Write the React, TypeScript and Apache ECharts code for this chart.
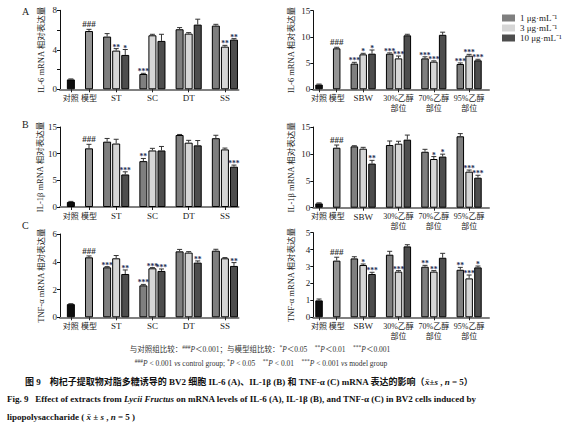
import React, { useEffect, useRef } from 'react';
import * as echarts from 'echarts';

const FONT = "'Liberation Serif', 'Noto Sans CJK SC', serif";

const baseNames = ['对照', '模型'];
const leftGroups = ['ST', 'SC', 'DT', 'SS'];
const rightGroups = ['SBW', '30%乙醇\n部位', '70%乙醇\n部位', '95%乙醇\n部位'];
const doseNames = ['1 μg·mL⁻¹', '3 μg·mL⁻¹', '10 μg·mL⁻¹'];

// IL-6, left (ST/SC/DT/SS)
const il6LBase = [1.0, 5.9];
const il6LBaseErr = [0.05, 0.17];
const il6LD1 = [5.34, 1.55, 6.08, 6.45];
const il6LD2 = [3.92, 5.47, 5.64, 4.32];
const il6LD3 = [3.48, 4.9, 6.55, 5.03];
const il6LE1 = [0.3, 0.07, 0.17, 0.13];
const il6LE2 = [0.2, 0.1, 0.1, 0.13];
const il6LE3 = [0.55, 0.67, 0.55, 0.1];
const il6LM1 = ['', '***', '', ''];
const il6LM2 = ['**', '', '', '**'];
const il6LM3 = ['*', '', '', '**'];

// IL-6, right (SBW / ethanol fractions)
const il6RBase = [0.9, 7.82];
const il6RBaseErr = [0.1, 0.2];
const il6RD1 = [4.9, 6.8, 5.9, 4.83];
const il6RD2 = [6.67, 5.9, 5.28, 6.42];
const il6RD3 = [6.8, 10.3, 10.4, 5.53];
const il6RE1 = [0.25, 0.15, 0.3, 0.2];
const il6RE2 = [0.2, 0.45, 0.15, 0.25];
const il6RE3 = [0.7, 0.2, 0.5, 0.2];
const il6RM1 = ['***', '***', '***', '***'];
const il6RM2 = ['*', '***', '***', '***'];
const il6RM3 = ['*', '', '', '***'];

// IL-1β, left
const il1LBase = [0.95, 11.0];
const il1LBaseErr = [0.1, 0.75];
const il1LD1 = [12.25, 8.6, 13.5, 12.9];
const il1LD2 = [11.9, 10.6, 12.06, 10.8];
const il1LD3 = [6.1, 10.6, 11.56, 7.56];
const il1LE1 = [0.6, 0.5, 0.1, 0.55];
const il1LE2 = [0.8, 0.4, 0.44, 0.25];
const il1LE3 = [0.5, 0.75, 0.9, 0.3];
const il1LM1 = ['', '**', '', ''];
const il1LM2 = ['', '', '', ''];
const il1LM3 = ['***', '', '', '***'];

// IL-1β, right
const il1RBase = [0.8, 11.15];
const il1RBaseErr = [0.1, 0.5];
const il1RD1 = [11.4, 11.65, 10.4, 13.27];
const il1RD2 = [10.97, 11.9, 9.05, 6.7];
const il1RD3 = [8.2, 12.65, 9.5, 5.58];
const il1RE1 = [0.12, 0.75, 0.45, 0.5];
const il1RE2 = [0.25, 0.45, 0.45, 0.3];
const il1RE3 = [0.6, 0.85, 0.45, 0.45];
const il1RM1 = ['', '', '', ''];
const il1RM2 = ['', '', '*', '***'];
const il1RM3 = ['**', '', '*', '***'];

// TNF-α, left
const tnfLBase = [0.95, 4.32];
const tnfLBaseErr = [0.03, 0.1];
const tnfLD1 = [3.6, 2.3, 4.75, 4.8];
const tnfLD2 = [4.25, 3.53, 4.66, 4.25];
const tnfLD3 = [3.12, 3.34, 3.94, 3.7];
const tnfLE1 = [0.05, 0.07, 0.14, 0.1];
const tnfLE2 = [0.2, 0.05, 0.07, 0.05];
const tnfLE3 = [0.29, 0.14, 0.12, 0.24];
const tnfLM1 = ['***', '***', '', ''];
const tnfLM2 = ['', '***', '', ''];
const tnfLM3 = ['**', '***', '**', '**'];

// TNF-α, right
const tnfRBase = [1.0, 3.35];
const tnfRBaseErr = [0.08, 0.2];
const tnfRD1 = [3.48, 3.7, 2.99, 2.81];
const tnfRD2 = [3.09, 2.7, 2.7, 2.3];
const tnfRD3 = [2.56, 4.19, 3.52, 2.95];
const tnfRE1 = [0.1, 0.2, 0.08, 0.14];
const tnfRE2 = [0.06, 0.06, 0.06, 0.2];
const tnfRE3 = [0.1, 0.1, 0.26, 0.08];
const tnfRM1 = ['', '', '**', '**'];
const tnfRM2 = ['*', '***', '**', '***'];
const tnfRM3 = ['***', '', '', '*'];

const baseMarks = ['', '###'];

const baseColors = ['#0d0d0d', '#949494'];
const doseColors = ['#7f7f7f', '#d6d6d6', '#4d4d4d'];

type Panel = {
  base: number[]; baseErr: number[];
  d: number[][]; e: number[][]; m: string[][];
  groups: string[]; yMax: number; yInterval: number; labelEvery: number;
  yName: string; left: number; top: number; width: number; height: number;
  xMin: number; xMax: number; nameGap: number; barW: number;
};

const LEFT = { left: 60, width: 178.5, xMin: -1.2, xMax: 18.5, nameGap: 15, barW: 8 };
const RIGHT = { left: 313.3, width: 175.7, xMin: -0.65, xMax: 19.25, nameGap: 18, barW: 7.5 };

const panels: Panel[] = [
  { ...LEFT, top: 10.3, height: 79, base: il6LBase, baseErr: il6LBaseErr, d: [il6LD1, il6LD2, il6LD3], e: [il6LE1, il6LE2, il6LE3], m: [il6LM1, il6LM2, il6LM3], groups: leftGroups, yMax: 8, yInterval: 2, labelEvery: 4, yName: 'IL-6 mRNA 相对表达量' },
  { ...RIGHT, top: 10.7, height: 78.6, base: il6RBase, baseErr: il6RBaseErr, d: [il6RD1, il6RD2, il6RD3], e: [il6RE1, il6RE2, il6RE3], m: [il6RM1, il6RM2, il6RM3], groups: rightGroups, yMax: 15, yInterval: 5, labelEvery: 5, yName: 'IL-6 mRNA 相对表达量' },
  { ...LEFT, top: 127, height: 80, base: il1LBase, baseErr: il1LBaseErr, d: [il1LD1, il1LD2, il1LD3], e: [il1LE1, il1LE2, il1LE3], m: [il1LM1, il1LM2, il1LM3], groups: leftGroups, yMax: 15, yInterval: 5, labelEvery: 5, yName: 'IL-1β mRNA 相对表达量' },
  { ...RIGHT, top: 127, height: 80.7, base: il1RBase, baseErr: il1RBaseErr, d: [il1RD1, il1RD2, il1RD3], e: [il1RE1, il1RE2, il1RE3], m: [il1RM1, il1RM2, il1RM3], groups: rightGroups, yMax: 15, yInterval: 5, labelEvery: 5, yName: 'IL-1β mRNA 相对表达量' },
  { ...LEFT, top: 234, height: 83.3, base: tnfLBase, baseErr: tnfLBaseErr, d: [tnfLD1, tnfLD2, tnfLD3], e: [tnfLE1, tnfLE2, tnfLE3], m: [tnfLM1, tnfLM2, tnfLM3], groups: leftGroups, yMax: 6, yInterval: 2, labelEvery: 2, yName: 'TNF-α mRNA 相对表达量' },
  { ...RIGHT, top: 232.7, height: 84.6, base: tnfRBase, baseErr: tnfRBaseErr, d: [tnfRD1, tnfRD2, tnfRD3], e: [tnfRE1, tnfRE2, tnfRE3], m: [tnfRM1, tnfRM2, tnfRM3], groups: rightGroups, yMax: 5, yInterval: 1, labelEvery: 1, yName: 'TNF-α mRNA 相对表达量' },
];

const hasCJK = (s: string) => /[\u4e00-\u9fff]/.test(s);
const richLabel = (s: string) => s.split('\n').map((line) => (hasCJK(line) ? '{c|' + line + '}' : '{l|' + line + '}')).join('\n');

function buildOption() {
  const grid: any[] = [];
  const xAxis: any[] = [];
  const yAxis: any[] = [];
  const series: any[] = [];

  panels.forEach((p, i) => {
    grid.push({ left: p.left, top: p.top, width: p.width, height: p.height });
    const centers = [0, 2, ...p.groups.map((_, g) => 5 + 4 * g)];
    const labels = [...baseNames, ...p.groups];
    xAxis.push({
      type: 'value', gridIndex: i, min: p.xMin, max: p.xMax,
      splitLine: { show: false },
      axisLine: { onZero: false, lineStyle: { color: '#808080', width: 2 } },
      axisTick: { show: true, customValues: centers, length: 3, lineStyle: { color: '#222', width: 1 } },
      axisLabel: {
        customValues: centers,
        hideOverlap: false, showMinLabel: true, showMaxLabel: true,
        formatter: (v: number) => { const k = centers.findIndex((c) => Math.abs(c - v) < 1e-6); return k >= 0 ? richLabel(labels[k]) : ''; },
        fontSize: 9, fontFamily: FONT, color: '#222', margin: 4, lineHeight: 10,
        rich: {
          c: { fontSize: 8, fontFamily: FONT, color: '#222', lineHeight: 10 },
          l: { fontSize: 9, fontFamily: FONT, color: '#222', lineHeight: 10 },
        },
      },
    });
    yAxis.push({
      type: 'value', gridIndex: i, min: 0, max: p.yMax, interval: p.yInterval,
      splitLine: { show: false },
      axisLine: { show: true, onZero: false, lineStyle: { color: '#111', width: 1 } },
      axisTick: { show: true, length: 3, lineStyle: { color: '#111' } },
      axisLabel: {
        fontSize: 9, fontFamily: FONT, color: '#222', margin: 3,
        formatter: (v: number) => (Math.abs(v % p.labelEvery) < 1e-6 ? String(v) : ''),
      },
      name: p.yName, nameLocation: 'middle', nameGap: p.nameGap,
      nameTextStyle: { fontSize: 8.5, fontFamily: FONT, color: '#222' },
    });

    series.push({
      type: 'bar', name: 'base' + i, xAxisIndex: i, yAxisIndex: i,
      barWidth: p.barW, barGap: '-100%',
      itemStyle: { borderColor: '#000', borderWidth: 1 },
      data: p.base.map((v, k) => ({ value: [k * 2, v], itemStyle: { color: baseColors[k], borderColor: '#000', borderWidth: 1 } })),
    });
    for (let d = 0; d < 3; d++) {
      series.push({
        type: 'bar', name: doseNames[d], xAxisIndex: i, yAxisIndex: i,
        barWidth: p.barW, barGap: '-100%',
        itemStyle: { color: doseColors[d], borderColor: '#000', borderWidth: 1 },
        data: p.d[d].map((v, g) => [4 + 4 * g + d, v]),
      });
    }

    const errData: number[][] = [];
    const marks: string[] = [];
    p.base.forEach((v, k) => { errData.push([k * 2, v, p.baseErr[k]]); marks.push(baseMarks[k]); });
    for (let d = 0; d < 3; d++) {
      p.d[d].forEach((v, g) => { errData.push([4 + 4 * g + d, v, p.e[d][g]]); marks.push(p.m[d][g]); });
    }
    series.push({
      type: 'custom', name: 'err' + i, xAxisIndex: i, yAxisIndex: i, z: 5,
      data: errData,
      renderItem: (params: any, api: any) => {
        const x = api.value(0), y = api.value(1), e = api.value(2);
        const b = api.coord([x, y]);
        const t = api.coord([x, y + e]);
        const children: any[] = [
          { type: 'line', shape: { x1: b[0], y1: b[1], x2: t[0], y2: t[1] }, style: { stroke: '#333', lineWidth: 1 } },
          { type: 'line', shape: { x1: t[0] - 2.5, y1: t[1], x2: t[0] + 2.5, y2: t[1] }, style: { stroke: '#333', lineWidth: 1 } },
        ];
        const mk = marks[params.dataIndex];
        if (mk) {
          const isHash = mk[0] === '#';
          children.push({
            type: 'text', x: t[0], y: t[1] - (isHash ? 5 : 1.5),
            style: {
              text: mk, fill: isHash ? '#333' : '#1c2b52',
              fontSize: isHash ? 9 : 7.5, fontWeight: 'bold', fontFamily: FONT,
              align: 'center', verticalAlign: 'middle',
            },
          });
        }
        return { type: 'group', children };
      },
    });
  });

  const cap = { fontSize: 7.5, fontFamily: FONT, fill: '#333' };
  const capI = { ...cap, fontStyle: 'italic' };
  const capS = { fontSize: 5.5, fontFamily: FONT, fill: '#333', verticalAlign: 'top', lineHeight: 10 };
  const bold9 = { fontSize: 9, fontFamily: FONT, fontWeight: 'bold', fill: '#111' };
  const bold9I = { ...bold9, fontStyle: 'italic' };

  const graphic: any[] = [
    { type: 'text', left: 22, top: 6, style: { text: 'A', fontSize: 10, fontFamily: FONT, fill: '#222' } },
    { type: 'text', left: 22, top: 119, style: { text: 'B', fontSize: 10, fontFamily: FONT, fill: '#222' } },
    { type: 'text', left: 22, top: 220, style: { text: 'C', fontSize: 10, fontFamily: FONT, fill: '#222' } },
    {
      type: 'text', x: 260, y: 349,
      style: {
        text: '{t|与对照组比较：}{s|###}{i|P}{t|＜0.001；与模型组比较：}{s|*}{i|P}{t|＜0.05　}{s|**}{i|P}{t|＜0.01　}{s|***}{i|P}{t|＜0.001}',
        align: 'center', verticalAlign: 'middle', ...cap,
        rich: { t: cap, i: capI, s: capS },
      },
    },
    {
      type: 'text', x: 261, y: 363,
      style: {
        text: '{s|###}{i|P}{t| < 0.001 }{i|vs}{t| control group; }{s|*}{i|P}{t| < 0.05    }{s|**}{i|P}{t| < 0.01    }{s|***}{i|P}{t| < 0.001 }{i|vs}{t| model group}',
        align: 'center', verticalAlign: 'middle', ...cap,
        rich: { t: cap, i: capI, s: capS },
      },
    },
    {
      type: 'text', x: 25, y: 382,
      style: {
        text: '{b|图 9　枸杞子提取物对脂多糖诱导的 BV2 细胞 IL-6 (A)、IL-1β (B) 和 TNF-α (C) mRNA 表达的影响（}{i|x̄}{b|±}{i|s}{b| , }{i|n}{b| = 5）}',
        align: 'left', verticalAlign: 'middle', ...bold9,
        rich: { b: bold9, i: bold9I },
      },
    },
    {
      type: 'text', x: 7, y: 399,
      style: {
        text: '{b|Fig. 9   Effect of extracts from }{i|Lycii Fructus}{b| on mRNA levels of IL-6 (A), IL-1β (B), and TNF-α (C) in BV2 cells induced by}',
        align: 'left', verticalAlign: 'middle', ...bold9,
        rich: { b: bold9, i: bold9I },
      },
    },
    {
      type: 'text', x: 7, y: 417,
      style: {
        text: '{b|lipopolysaccharide ( }{i|x̄}{b| ± }{i|s}{b| , }{i|n}{b| = 5 )}',
        align: 'left', verticalAlign: 'middle', ...bold9,
        rich: { b: bold9, i: bold9I },
      },
    },
  ];

  return {
    animation: false,
    backgroundColor: '#fff',
    grid, xAxis, yAxis, series, graphic,
    legend: {
      orient: 'vertical', left: 497, top: 8.5,
      itemWidth: 13, itemHeight: 7, itemGap: 1,
      icon: 'rect',
      itemStyle: { borderWidth: 0 },
      textStyle: { fontSize: 9, fontFamily: FONT, color: '#222' },
      data: doseNames,
      selectedMode: false,
    },
  };
}

export default function App() {
  const ref = useRef<HTMLDivElement>(null);
  useEffect(() => {
    if (!ref.current) return;
    const chart = echarts.init(ref.current, undefined, { renderer: 'svg' });
    chart.setOption(buildOption() as any);
    return () => chart.dispose();
  }, []);
  return <div ref={ref} style={{ position: 'fixed', left: 0, top: 0, width: 568, height: 425, background: '#fff' }} />;
}
